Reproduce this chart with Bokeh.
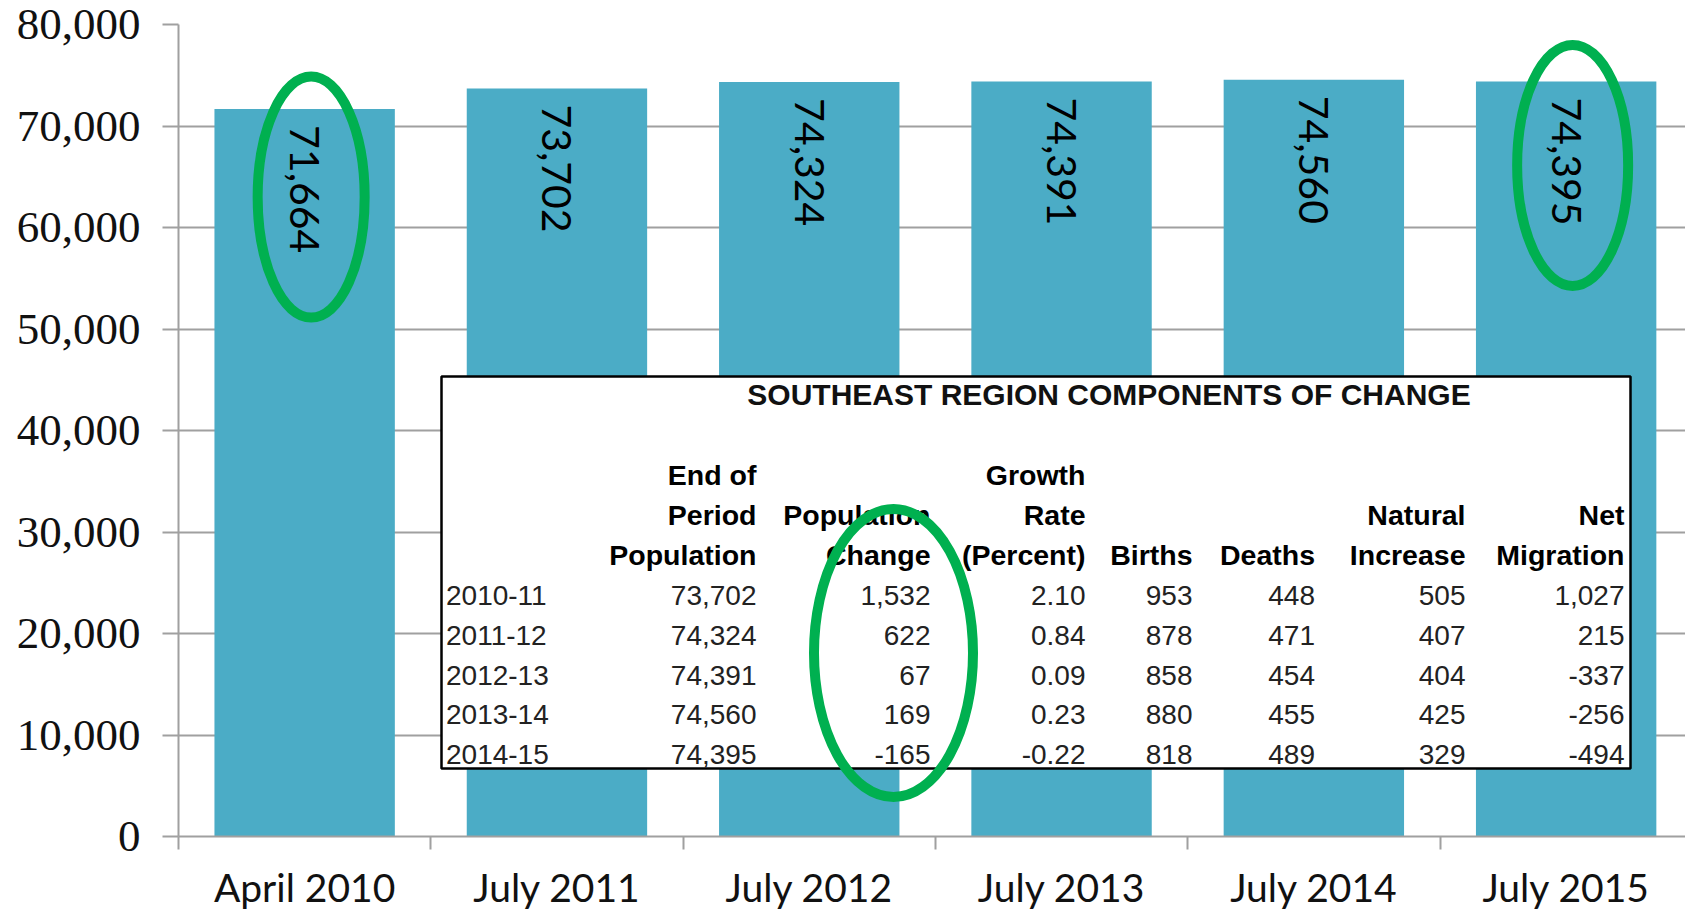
import math
from bokeh.plotting import figure
from bokeh.models import Range1d, FixedTicker, NumeralTickFormatter
from bokeh.core.properties import value
from bokeh.embed import file_html
from bokeh.resources import INLINE

# ---------------- data ----------------
categories = ["April 2010", "July 2011", "July 2012", "July 2013", "July 2014", "July 2015"]
population = [71664, 73702, 74324, 74391, 74560, 74395]

table_title = "SOUTHEAST REGION COMPONENTS OF CHANGE"
periods = ["2010-11", "2011-12", "2012-13", "2013-14", "2014-15"]
end_pop = [73702, 74324, 74391, 74560, 74395]
pop_change = [1532, 622, 67, 169, -165]
growth_rate = [2.10, 0.84, 0.09, 0.23, -0.22]
births = [953, 878, 858, 880, 818]
deaths = [448, 471, 454, 455, 489]
natural_increase = [505, 407, 404, 425, 329]
net_migration = [1027, 215, -337, -256, -494]
column_headers = [
    ["End of", "Period", "Population"],
    ["Population", "Change"],
    ["Growth", "Rate", "(Percent)"],
    ["Births"],
    ["Deaths"],
    ["Natural", "Increase"],
    ["Net", "Migration"],
]

# ---------------- layout ----------------
W, H = 1685, 913
MB_LEFT, MB_TOP, MB_BOTTOM = 178, 24, 77
FRAME_LEFT = MB_LEFT                 # page px of x = 0
FRAME_BOTTOM = H - MB_BOTTOM         # page px of y = 0
FRAME_W = W - MB_LEFT
FRAME_H = H - MB_TOP - MB_BOTTOM
PX_PER_CAT = 252.3
Y_MAX = 80000
PX_PER_UNIT = FRAME_H / Y_MAX
X_END = FRAME_W / PX_PER_CAT
TEXT_SHIFT = -11                      # baseline correction for table text (px)


def dx(px):
    return (px - FRAME_LEFT) / PX_PER_CAT


def dy(py):
    return (FRAME_BOTTOM - py) / PX_PER_UNIT


GRID = "#A0A0A0"
BAR = "#4BACC6"
GREEN = "#00B050"

p = figure(width=W, height=H, output_backend="svg", toolbar_location=None,
           x_range=Range1d(0, X_END), y_range=Range1d(0, Y_MAX),
           min_border_left=MB_LEFT, min_border_right=0,
           min_border_top=MB_TOP, min_border_bottom=MB_BOTTOM)
p.outline_line_color = None
p.background_fill_color = "white"
p.border_fill_color = "white"

p.xgrid.visible = False
p.ygrid.grid_line_color = GRID
p.ygrid.grid_line_width = 2

# y axis
p.yaxis.ticker = FixedTicker(ticks=list(range(0, Y_MAX + 1, 10000)))
p.yaxis.formatter = NumeralTickFormatter(format="0,0")
p.yaxis.axis_line_color = GRID
p.yaxis.axis_line_width = 2
p.yaxis.major_tick_line_color = GRID
p.yaxis.major_tick_line_width = 2
p.yaxis.major_tick_out = 16
p.yaxis.major_tick_in = 0
p.yaxis.minor_tick_line_color = None
p.yaxis.major_label_standoff = 22
p.yaxis.major_label_text_font = "Liberation Serif"
p.yaxis.major_label_text_font_size = "45px"
p.yaxis.major_label_text_color = "#111111"

# x axis
centers = [i + 0.5 for i in range(len(categories))]
p.xaxis.ticker = FixedTicker(ticks=centers, minor_ticks=list(range(len(categories))))
p.xaxis.major_label_overrides = {c: lab for c, lab in zip(centers, categories)}
p.xaxis.axis_line_color = GRID
p.xaxis.axis_line_width = 2
p.xaxis.major_tick_line_color = None
p.xaxis.minor_tick_line_color = GRID
p.xaxis.minor_tick_line_width = 2
p.xaxis.minor_tick_out = 13
p.xaxis.minor_tick_in = 0
p.xaxis.major_label_standoff = 14
p.xaxis.major_label_text_font = "Lato"
p.xaxis.major_label_text_font_size = "39px"
p.xaxis.major_label_text_color = "#111111"

# bars
p.vbar(x=centers, top=population, width=0.715, bottom=0,
       fill_color=BAR, line_color=None)

# bar labels (rotated, reading top to bottom)
p.text(x=centers, y=population, text=["{:,}".format(v) for v in population],
       angle=-math.pi / 2, text_align="left", text_baseline="middle",
       y_offset=16, text_font=value("Lato"), text_font_size="41px",
       text_color="black")

# highlight ellipses on first and last bars
hl_bars = [0, len(categories) - 1]
hl_drop_px = [88, 84]
hl_w = [107, 111]
for i, drop, w in zip(hl_bars, hl_drop_px, hl_w):
    p.ellipse(x=[centers[i] + 6.5 / PX_PER_CAT],
              y=[population[i] - drop / PX_PER_UNIT],
              width=w, height=241, width_units="screen", height_units="screen",
              fill_color=None, line_color=GREEN, line_width=10)

# ---------------- inset table ----------------
TB_L, TB_R, TB_T, TB_B = 441, 1630, 376, 768
p.quad(left=[dx(TB_L)], right=[dx(TB_R)], top=[dy(TB_T)], bottom=[dy(TB_B)],
       fill_color="white", line_color="black", line_width=2.5)

p.text(x=[dx((745 + 1472) / 2)], y=[dy(405)], text=[table_title],
       text_align="center", text_baseline="alphabetic", y_offset=TEXT_SHIFT,
       text_font=value("Liberation Sans"), text_font_size="30px",
       text_font_style="bold", text_color="#111111")

col_right = [756, 930, 1085, 1192, 1314.5, 1465, 1624]
HEAD_BASE = 565
LINE_H = 40
hx, hy, ht = [], [], []
for cr, lines in zip(col_right, column_headers):
    for k, line in enumerate(reversed(lines)):
        hx.append(dx(cr))
        hy.append(dy(HEAD_BASE - k * LINE_H))
        ht.append(line)
p.text(x=hx, y=hy, text=ht, text_align="right", text_baseline="alphabetic",
       y_offset=TEXT_SHIFT,
       text_font=value("Liberation Sans"), text_font_size="28.5px",
       text_font_style="bold", text_color="black")

ROW_BASE0 = 606
ROW_STEP = 39.8
row_y = [dy(ROW_BASE0 + r * ROW_STEP) for r in range(len(periods))]
p.text(x=[dx(445.5)] * len(periods), y=row_y, text=periods,
       text_align="left", text_baseline="alphabetic", y_offset=TEXT_SHIFT,
       text_font=value("Liberation Sans"), text_font_size="28px",
       text_color="#222222")

columns = [
    ["{:,}".format(v) for v in end_pop],
    ["{:,}".format(v) for v in pop_change],
    ["{:.2f}".format(v) for v in growth_rate],
    ["{:,}".format(v) for v in births],
    ["{:,}".format(v) for v in deaths],
    ["{:,}".format(v) for v in natural_increase],
    ["{:,}".format(v) for v in net_migration],
]
cx, cy, ct = [], [], []
for cr, col in zip(col_right, columns):
    for r, s in enumerate(col):
        cx.append(dx(cr))
        cy.append(row_y[r])
        ct.append(s)
p.text(x=cx, y=cy, text=ct, text_align="right", text_baseline="alphabetic",
       y_offset=TEXT_SHIFT,
       text_font=value("Liberation Sans"), text_font_size="28px",
       text_color="#222222")

# highlight ellipse around the "Population Change" column
p.ellipse(x=[dx(col_right[1] - 37)], y=[dy(652.5)], width=159, height=288,
          width_units="screen", height_units="screen",
          fill_color=None, line_color=GREEN, line_width=10)

open("out.html", "w").write(file_html(p, INLINE))
